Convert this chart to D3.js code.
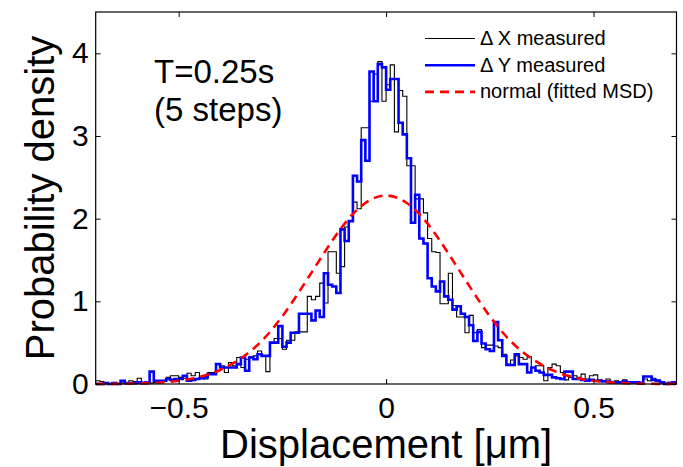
<!DOCTYPE html>
<html lang="en">
<head>
	<meta charset="UTF-8"/>
	<title>Displacement histogram T=0.25s</title>
	<script src="https://d3js.org/d3.v7.min.js"></script>
	<style>
		body { margin: 0; background: #fff; }
		text { font-family: "Liberation Sans", Arial, Helvetica, sans-serif; fill: #000; }
	</style>
</head>
<body>
<script>
	var w = 683;	// Width of the SVG
	var h = 467;	// Height of the SVG

	// plot box
	var plotLeft = 95.7, plotRight = 676.5, plotTop = 12, plotBottom = 384;

	// histogram bins: start at -0.7, width 0.01, 140 bins
	var binStart = -0.7;
	var binWidth = 0.01;

	// Delta X measured (black)
	var dxDensity = [
		0.04,0.03,0.01,0.00,0.01,0.00,0.01,0.01,0.04,0.03,
		0.07,0.02,0.01,0.01,0.02,0.02,0.04,0.08,0.10,0.10,
		0.08,0.07,0.13,0.10,0.14,0.08,0.06,0.14,0.14,0.24,
		0.22,0.14,0.26,0.22,0.32,0.20,0.30,0.33,0.34,0.40,
		0.34,0.15,0.50,0.55,0.55,0.42,0.53,0.53,0.63,0.63,
		0.63,1.06,1.02,1.06,1.22,0.98,1.60,1.60,1.34,1.42,
		1.90,1.97,2.20,2.12,3.10,3.10,3.42,3.75,3.90,3.42,
		3.62,3.86,3.05,3.55,3.48,2.64,2.64,2.24,2.24,2.07,
		1.76,1.60,1.59,0.97,0.97,1.34,0.95,0.81,0.81,0.62,
		0.83,0.62,0.66,0.44,0.47,0.47,0.46,0.44,0.36,0.24,
		0.29,0.34,0.32,0.30,0.33,0.20,0.22,0.22,0.04,0.20,
		0.24,0.22,0.14,0.05,0.08,0.10,0.08,0.12,0.06,0.10,
		0.11,0.05,0.04,0.06,0.03,0.04,0.02,0.05,0.03,0.02,
		0.03,0.02,0.06,0.04,0.07,0.05,0.02,0.01,0.02,0.01
	];

	// Delta Y measured (blue)
	var dyDensity = [
		0.00,0.00,0.01,0.00,0.01,0.00,0.04,0.01,0.01,0.01,
		0.02,0.01,0.02,0.15,0.04,0.04,0.04,0.06,0.05,0.06,
		0.06,0.10,0.04,0.05,0.06,0.07,0.08,0.12,0.12,0.24,
		0.20,0.20,0.20,0.20,0.24,0.32,0.16,0.32,0.30,0.36,
		0.34,0.34,0.50,0.50,0.70,0.45,0.50,0.62,0.62,0.85,
		0.85,0.85,0.77,0.89,0.81,1.34,1.20,1.18,1.10,1.87,
		1.73,1.97,2.52,2.45,2.95,2.70,3.78,3.42,3.87,3.83,
		3.56,3.69,3.69,3.16,3.02,2.73,1.95,2.29,1.76,1.70,
		1.28,1.18,1.12,1.24,1.06,1.02,0.90,0.94,0.85,0.81,
		0.71,0.52,0.63,0.49,0.42,0.40,0.75,0.53,0.34,0.23,
		0.23,0.36,0.24,0.24,0.14,0.20,0.16,0.14,0.11,0.11,
		0.08,0.07,0.06,0.15,0.15,0.06,0.06,0.05,0.04,0.05,
		0.04,0.04,0.03,0.03,0.02,0.02,0.02,0.03,0.02,0.02,
		0.02,0.01,0.09,0.09,0.05,0.04,0.02,0.00,0.01,0.02
	];

	// normal (fitted MSD), read every 0.05
	var normalX = [-0.70,-0.65,-0.60,-0.55,-0.50,-0.45,-0.40,-0.35,-0.30,-0.25,-0.20,-0.15,-0.10,-0.05,0,
		0.05,0.10,0.15,0.20,0.25,0.30,0.35,0.40,0.45,0.50,0.55,0.60,0.65,0.70];
	var normalY = [0.001,0.002,0.006,0.016,0.039,0.084,0.17,0.31,0.52,0.82,1.19,1.58,1.94,2.19,2.28,
		2.19,1.94,1.58,1.19,0.82,0.52,0.31,0.17,0.084,0.039,0.016,0.006,0.002,0.001];

	// ticks
	var xTicks = [-0.5, 0, 0.5];
	var xTickLabels = ["\u22120.5", "0", "0.5"];
	var yTicks = [0, 1, 2, 3, 4];
	var yTickLabels = ["0", "1", "2", "3", "4"];

	// legend
	var legendLabels = ["\u0394 X measured", "\u0394 Y measured", "normal (fitted MSD)"];
	var legendColors = ["#000000", "#0000ff", "#ff0000"];

	var xScale = d3.scaleLinear()
				.domain([-0.7, 0.7])
				.range([plotLeft, plotRight]);

	var yScale = d3.scaleLinear()
				.domain([0, 4.5])
				.range([plotBottom, plotTop]);

	var svg = d3.select("body")
				.append("svg")
				.attr("width", w)
				.attr("height", h);

	// turn bin values into stair points
	function stairs(values) {
		var pts = values.map(function(v, i) {
			return [binStart + i * binWidth, v];
		});
		pts.push([binStart + values.length * binWidth, values[values.length - 1]]);
		return pts;
	}

	var stairLine = d3.line()
				.x(function(d) { return xScale(d[0]); })
				.y(function(d) { return yScale(d[1]); })
				.curve(d3.curveStepAfter);

	svg.append("path")
		.datum(stairs(dxDensity))
		.attr("d", stairLine)
		.attr("fill", "none")
		.attr("stroke", "#000")
		.attr("stroke-width", 1.1);

	svg.append("path")
		.datum(stairs(dyDensity))
		.attr("d", stairLine)
		.attr("fill", "none")
		.attr("stroke", "#0000ff")
		.attr("stroke-width", 2.6);

	var normalLine = d3.line()
				.x(function(d, i) { return xScale(normalX[i]); })
				.y(function(d) { return yScale(d); })
				.curve(d3.curveNatural);

	svg.append("path")
		.datum(normalY)
		.attr("d", normalLine)
		.attr("fill", "none")
		.attr("stroke", "#ff0000")
		.attr("stroke-width", 2.6)
		.attr("stroke-dasharray", "9,6");

	// axes, inward ticks
	var xAxis = d3.axisBottom(xScale)
				.tickValues(xTicks)
				.tickFormat(function(d, i) { return xTickLabels[i]; })
				.tickSizeInner(-5)
				.tickSizeOuter(0)
				.tickPadding(13);

	var yAxis = d3.axisLeft(yScale)
				.tickValues(yTicks)
				.tickFormat(function(d, i) { return yTickLabels[i]; })
				.tickSizeInner(-5)
				.tickSizeOuter(0)
				.tickPadding(7);

	var gx = svg.append("g")
		.attr("transform", "translate(0," + plotBottom + ")")
		.call(xAxis);
	var gy = svg.append("g")
		.attr("transform", "translate(" + plotLeft + ",0)")
		.call(yAxis);

	svg.append("g")
		.attr("transform", "translate(0," + plotTop + ")")
		.call(d3.axisTop(xScale).tickValues(xTicks).tickFormat("").tickSizeInner(-5).tickSizeOuter(0));
	svg.append("g")
		.attr("transform", "translate(" + plotRight + ",0)")
		.call(d3.axisRight(yScale).tickValues(yTicks).tickFormat("").tickSizeInner(-5).tickSizeOuter(0));

	svg.selectAll(".domain").remove();
	svg.selectAll(".tick line").attr("stroke", "#000");
	gx.selectAll("text").style("font-size", "30px");
	gy.selectAll("text").style("font-size", "30px");
	svg.selectAll("g").attr("font-family", null);

	// box
	svg.append("rect")
		.attr("x", plotLeft)
		.attr("y", plotTop)
		.attr("width", plotRight - plotLeft)
		.attr("height", plotBottom - plotTop)
		.attr("fill", "none")
		.attr("stroke", "#000")
		.attr("stroke-width", 1.2);

	// axis labels
	svg.append("text")
		.attr("x", (plotLeft + plotRight) / 2)
		.attr("y", 458)
		.attr("text-anchor", "middle")
		.style("font-size", "40px")
		.text("Displacement [\u03bcm]");

	svg.append("text")
		.attr("transform", "translate(54," + (plotTop + plotBottom) / 2 + ") rotate(-90)")
		.attr("text-anchor", "middle")
		.style("font-size", "40px")
		.text("Probability density");

	// annotation
	svg.append("text")
		.attr("x", 154)
		.attr("y", 83)
		.style("font-size", "33px")
		.text("T=0.25s");
	svg.append("text")
		.attr("x", 154)
		.attr("y", 121)
		.style("font-size", "33px")
		.text("(5 steps)");

	// legend
	var legend = svg.selectAll(".legend")
		.data(legendLabels)
		.enter()
		.append("g")
		.attr("class", "legend")
		.attr("transform", function(d, i) { return "translate(425," + (38.5 + i * 26.7) + ")"; });

	legend.append("line")
		.attr("x1", 0)
		.attr("x2", 50)
		.attr("stroke", function(d, i) { return legendColors[i]; })
		.attr("stroke-width", function(d, i) { return i == 0 ? 1.1 : 2.6; })
		.attr("stroke-dasharray", function(d, i) { return i == 2 ? "9,6" : null; });

	legend.append("text")
		.attr("x", 55)
		.attr("y", 6.5)
		.style("font-size", "20px")
		.text(function(d) { return d; });
</script>
</body>
</html>
